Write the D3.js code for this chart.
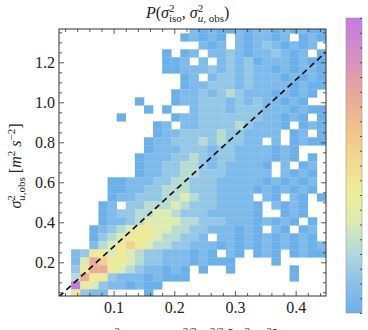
<!DOCTYPE html>
<html>
<head>
<meta charset="utf-8">
<script src="https://cdn.jsdelivr.net/npm/d3@7"></script>
<style>
  body { margin: 0; background: #fff; }
  text { font-family: "Liberation Serif", "DejaVu Serif", serif; fill: #222; }
  .axis line { stroke: #333; stroke-width: 0.8; }
  .axis path { display: none; }
</style>
</head>
<body>
<div class="chart"></div>
<script>
// histogram bins (data units)
var xBinStart = 0, xBinWidth = 0.015;
var yBinStart = 0.025, yBinWidth = 0.04;

// density level per cell, top row first, columns left to right; "." = empty bin
var densityRows = [
  "...............212112122121211",
  "..............12121.212212.121",
  "................212.212321212.",
  "............1.12.22321223212.1",
  "............112.2.232312221211",
  "............112223232322121221",
  "..............12.2332322212121",
  "..............1223332322221211",
  ".............1223234322212121.",
  ".........1...122333232322121..",
  "..........1.1..233323332221211",
  ".......1.....122333333322121.1",
  "...........12.223333432221.121",
  "...........12233334332222.12.1",
  "..........1223334343322.2.1211",
  "..........12223332332222121...",
  ".........122233432332222121.1.",
  ".........122334432322221.2.12.",
  ".........122334433322222.2121.",
  "......11222334433322222121212.",
  "......11223344433322221212121.",
  "......1223334454332222.21.21.1",
  ".....12.334445433322221.2121..",
  ".....123344554333222221..121..",
  ".....1223455554433322212121.1.",
  "....1234566554433222121.21.12.",
  "....1345666544332.22121212121.",
  "....24567654433222121212121212",
  "..2366565433222121.21.121.1211",
  "..258766543322212111....1.....",
  "..3688654322121.1..1......1...",
  "..4866322212111...........1...",
  "..9653221211..................",
  "..6322....1..................."
];
var levelDensity = [0, 0, 0.06, 0.13, 0.22, 0.32, 0.42, 0.55, 0.72, 1];

var xMajorTicks = [0.1, 0.2, 0.3, 0.4];
var xMinorTicks = [0.02, 0.04, 0.06, 0.08, 0.12, 0.14, 0.16, 0.18, 0.22, 0.24, 0.26, 0.28, 0.32, 0.34, 0.36, 0.38, 0.42, 0.44];
var yMajorTicks = [0.2, 0.4, 0.6, 0.8, 1.0, 1.2];
var yMinorTicks = [0.05, 0.1, 0.15, 0.25, 0.3, 0.35, 0.45, 0.5, 0.55, 0.65, 0.7, 0.75, 0.85, 0.9, 0.95, 1.05, 1.1, 1.15, 1.25, 1.3, 1.35];

var fitSlope = 2.78;

var colorStops = [0, 0.1, 0.2, 0.3, 0.4, 0.5, 0.62, 0.74, 0.86, 1];
var colorValues = ["#6cb0ea", "#8ac0ea", "#b0d8dc", "#d8eab4", "#eeee9a", "#f2dc8e", "#f0c48a", "#e8a89a", "#d592c0", "#c47ae2"];

var svgWidth = 368, svgHeight = 330;
var frame = { left: 59, right: 326, top: 29, bottom: 296 };

var svg = d3.select(".chart")
  .append("svg")
  .attr("width", svgWidth)
  .attr("height", svgHeight);

var xScale = d3.scaleLinear().domain([0.01, 0.45]).range([frame.left, frame.right]);
var yScale = d3.scaleLinear().domain([0.0315, 1.3665]).range([frame.bottom, frame.top]);
var colorScale = d3.scaleLinear().domain(colorStops).range(colorValues);

svg.append("clipPath").attr("id", "plotclip")
  .append("rect")
  .attr("x", frame.left).attr("y", frame.top)
  .attr("width", frame.right - frame.left).attr("height", frame.bottom - frame.top);

// cells
var cells = [];
var nRows = densityRows.length;
densityRows.forEach(function(row, i) {
  var r = nRows - 1 - i;
  row.split("").forEach(function(ch, c) {
    if (ch === ".") return;
    cells.push({
      x0: xBinStart + c * xBinWidth,
      y0: yBinStart + r * yBinWidth,
      value: levelDensity[+ch]
    });
  });
});

var plot = svg.append("g").attr("clip-path", "url(#plotclip)");

plot.selectAll("rect.cell")
  .data(cells)
  .enter()
  .append("rect")
  .attr("class", "cell")
  .attr("x", d => xScale(d.x0))
  .attr("y", d => yScale(d.y0 + yBinWidth))
  .attr("width", d => xScale(d.x0 + xBinWidth) - xScale(d.x0) + 0.3)
  .attr("height", d => yScale(d.y0) - yScale(d.y0 + yBinWidth) + 0.3)
  .attr("fill", d => colorScale(d.value));

// dashed reference line
var xd = xScale.domain();
plot.append("line")
  .attr("x1", xScale(xd[0])).attr("y1", yScale(fitSlope * xd[0]))
  .attr("x2", xScale(xd[1])).attr("y2", yScale(fitSlope * xd[1]))
  .attr("stroke", "#111")
  .attr("stroke-width", 1.7)
  .attr("stroke-dasharray", "6,4");

// axes (ticks point inward)
svg.append("g").attr("class", "axis")
  .attr("transform", `translate(0, ${frame.bottom})`)
  .call(d3.axisBottom(xScale).tickValues(xMajorTicks).tickSize(-5).tickPadding(6).tickFormat(d3.format(".1f")))
  .selectAll("text").attr("font-size", 16).attr("font-family", "Liberation Serif").attr("fill", "#222");
svg.append("g").attr("class", "axis")
  .attr("transform", `translate(0, ${frame.bottom})`)
  .call(d3.axisBottom(xScale).tickValues(xMinorTicks).tickSize(-3).tickFormat(""));
svg.append("g").attr("class", "axis")
  .attr("transform", `translate(0, ${frame.top})`)
  .call(d3.axisTop(xScale).tickValues(xMajorTicks).tickSize(-5).tickFormat(""));
svg.append("g").attr("class", "axis")
  .attr("transform", `translate(0, ${frame.top})`)
  .call(d3.axisTop(xScale).tickValues(xMinorTicks).tickSize(-3).tickFormat(""));

svg.append("g").attr("class", "axis")
  .attr("transform", `translate(${frame.left}, 0)`)
  .call(d3.axisLeft(yScale).tickValues(yMajorTicks).tickSize(-5).tickPadding(4).tickFormat(d3.format(".1f")))
  .selectAll("text").attr("font-size", 16).attr("font-family", "Liberation Serif").attr("fill", "#222");
svg.append("g").attr("class", "axis")
  .attr("transform", `translate(${frame.left}, 0)`)
  .call(d3.axisLeft(yScale).tickValues(yMinorTicks).tickSize(-3).tickFormat(""));
svg.append("g").attr("class", "axis")
  .attr("transform", `translate(${frame.right}, 0)`)
  .call(d3.axisRight(yScale).tickValues(yMajorTicks).tickSize(-5).tickFormat(""));
svg.append("g").attr("class", "axis")
  .attr("transform", `translate(${frame.right}, 0)`)
  .call(d3.axisRight(yScale).tickValues(yMinorTicks).tickSize(-3).tickFormat(""));

svg.append("rect")
  .attr("x", frame.left).attr("y", frame.top)
  .attr("width", frame.right - frame.left).attr("height", frame.bottom - frame.top)
  .attr("fill", "none").attr("stroke", "#333").attr("stroke-width", 1);

// title
var title = svg.append("text")
  .attr("x", 146).attr("y", 18)
  .attr("font-size", 16);
title.append("tspan").attr("font-style", "italic").text("P");
title.append("tspan").text("(");
title.append("tspan").attr("font-style", "italic").text("σ");
title.append("tspan").attr("font-size", 11).attr("dy", -6).text("2");
title.append("tspan").attr("font-size", 11).attr("dx", -5.5).attr("dy", 10).text("iso");
title.append("tspan").attr("dy", -4).text(", ");
title.append("tspan").attr("font-style", "italic").text("σ");
title.append("tspan").attr("font-size", 11).attr("dy", -6).text("2");
title.append("tspan").attr("font-size", 11).attr("font-style", "italic").attr("dx", -5.5).attr("dy", 10).text("u");
title.append("tspan").attr("font-size", 11).text(", obs");
title.append("tspan").attr("dy", -4).text(")");

// y label
var ylab = svg.append("text")
  .attr("transform", "translate(21, 166) rotate(-90)")
  .attr("text-anchor", "middle")
  .attr("font-size", 16);
ylab.append("tspan").attr("font-style", "italic").text("σ");
ylab.append("tspan").attr("font-size", 11).attr("dy", -6).text("2");
ylab.append("tspan").attr("font-size", 11).attr("font-style", "italic").attr("dx", -5.5).attr("dy", 10).text("u");
ylab.append("tspan").attr("font-size", 11).text(",obs");
ylab.append("tspan").attr("dy", -4).text(" [");
ylab.append("tspan").attr("font-style", "italic").text("m");
ylab.append("tspan").attr("font-size", 11).attr("dy", -6).text("2");
ylab.append("tspan").attr("dy", 6).text(" ");
ylab.append("tspan").attr("font-style", "italic").text("s");
ylab.append("tspan").attr("font-size", 11).attr("dy", -6).text("−2");
ylab.append("tspan").attr("dy", 6).text("]");

// x label (cut by the bottom edge, as in the original)
var xlab = svg.append("text")
  .attr("x", 192).attr("y", 341)
  .attr("text-anchor", "middle")
  .attr("font-size", 16);
xlab.append("tspan").attr("font-style", "italic").text("σ");
xlab.append("tspan").attr("font-size", 11).attr("dy", -6).text("2");
xlab.append("tspan").attr("font-size", 11).attr("dx", -5.5).attr("dy", 10).text("iso");
xlab.append("tspan").attr("dy", -4).text(" = 0.68 ");
xlab.append("tspan").attr("font-style", "italic").text("ε");
xlab.append("tspan").attr("font-size", 11).attr("dy", -6).text("2/3");
xlab.append("tspan").attr("dy", 6).text(" ");
xlab.append("tspan").attr("font-style", "italic").text("L");
xlab.append("tspan").attr("font-size", 11).attr("dy", -6).text("2/3");
xlab.append("tspan").attr("dy", 6).text(" [");
xlab.append("tspan").attr("font-style", "italic").text("m");
xlab.append("tspan").attr("font-size", 11).attr("dy", -6).text("2");
xlab.append("tspan").attr("dy", 6).text(" ");
xlab.append("tspan").attr("font-style", "italic").text("s");
xlab.append("tspan").attr("font-size", 11).attr("dy", -6).text("−2");
xlab.append("tspan").attr("dy", 6).text("]");

// colour bar
var bar = { x: 346, y: 18, w: 16, h: 295 };
var grad = svg.append("defs").append("linearGradient")
  .attr("id", "barGrad")
  .attr("x1", 0).attr("y1", 1).attr("x2", 0).attr("y2", 0);
grad.selectAll("stop")
  .data(colorStops)
  .enter()
  .append("stop")
  .attr("offset", d => d)
  .attr("stop-color", d => colorScale(d));

svg.append("rect")
  .attr("x", bar.x).attr("y", bar.y)
  .attr("width", bar.w).attr("height", bar.h)
  .attr("fill", "url(#barGrad)")
  .attr("stroke", "#999").attr("stroke-width", 0.6);

var barScale = d3.scaleLinear().domain([0, 1]).range([bar.y + bar.h, bar.y]);
svg.append("g").attr("class", "axis")
  .attr("transform", `translate(${bar.x + bar.w}, 0)`)
  .call(d3.axisRight(barScale).ticks(24).tickSize(-2).tickFormat(""))
  .selectAll("line").attr("stroke", "#888").attr("stroke-width", 0.5);
</script>
</body>
</html>
